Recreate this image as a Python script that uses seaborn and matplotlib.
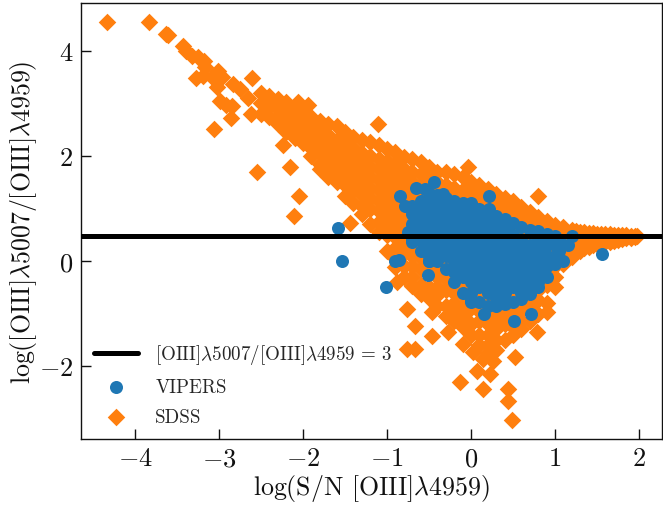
import pandas as pd
import seaborn as sns
import matplotlib
matplotlib.use("Agg")
import matplotlib.pyplot as plt

# values: main cloud as columns, stragglers listed apart
sdss_col_x = [-2.5, -2.4, -2.3, -2.2, -2.1, -2.0, -1.9, -1.8, -1.7, -1.6, -1.5, -1.4, -1.3, -1.2, -1.1, -1.0,
              -0.9, -0.8, -0.7, -0.6, -0.5, -0.4, -0.3, -0.2, -0.1, 0.0, 0.1, 0.2, 0.3, 0.4, 0.5, 0.6, 0.7, 0.8,
              0.9, 1.0, 1.1, 1.2, 1.25, 1.3, 1.35, 1.4, 1.45, 1.5, 1.55, 1.6, 1.65, 1.7, 1.75, 1.8, 1.85, 1.9, 1.95, 1.98]
sdss_col_y = [
    [3.2, 3.0, 2.8],
    [3.14, 2.95, 2.75],
    [3.08, 2.9, 2.75, 2.6],
    [3.03, 2.85, 2.65, 2.45],
    [2.93, 2.75, 2.55, 2.35],
    [2.84, 2.65, 2.45, 2.25],
    [2.74, 2.55, 2.35, 2.15, 2.0],
    [2.67, 2.45, 2.25, 2.05, 1.85, 1.75],
    [2.6, 2.4, 2.2, 2.0, 1.8, 1.6],
    [2.57, 2.3, 2.1, 1.9, 1.7, 1.5],
    [2.45, 2.25, 2.05, 1.85, 1.65, 1.45, 1.24],
    [2.36, 2.15, 1.95, 1.75, 1.55, 1.35, 1.1],
    [2.3, 2.05, 1.85, 1.65, 1.45, 1.25, 1.05, 0.9],
    [2.27, 2.0, 1.8, 1.6, 1.4, 1.2, 1.0, 0.7],
    [2.2, 1.95, 1.75, 1.55, 1.35, 1.15, 0.95, 0.75, 0.55],
    [2.13, 1.9, 1.7, 1.5, 1.3, 1.1, 0.9, 0.7, 0.5, 0.2],
    [2.07, 1.85, 1.65, 1.45, 1.25, 1.05, 0.85, 0.65, 0.45, 0.25, 0.05, -0.12],
    [1.98, 1.75, 1.55, 1.35, 1.15, 0.95, 0.75, 0.55, 0.35, 0.15, -0.1, -0.3],
    [1.94, 1.7, 1.5, 1.3, 1.1, 0.9, 0.7, 0.5, 0.3, 0.1, -0.1, -0.3, -0.48],
    [1.88, 1.65, 1.45, 1.25, 1.05, 0.85, 0.65, 0.45, 0.25, 0.05, -0.15, -0.45, -0.62],
    [1.8, 1.6, 1.4, 1.2, 1.0, 0.8, 0.6, 0.4, 0.2, 0.0, -0.2, -0.5, -0.7],
    [1.7, 1.5, 1.3, 1.1, 0.9, 0.7, 0.5, 0.3, 0.1, -0.1, -0.3, -0.5, -0.65, -0.85],
    [1.7, 1.45, 1.25, 1.05, 0.85, 0.65, 0.45, 0.25, 0.05, -0.15, -0.35, -0.55, -0.85, -1.05],
    [1.65, 1.4, 1.2, 1.0, 0.8, 0.6, 0.4, 0.2, 0.0, -0.2, -0.4, -0.6, -0.8, -0.95, -1.15],
    [1.6, 1.35, 1.15, 0.95, 0.75, 0.55, 0.35, 0.15, -0.05, -0.25, -0.45, -0.65, -0.85, -1.05, -1.25],
    [1.5, 1.3, 1.1, 0.9, 0.7, 0.5, 0.3, 0.1, -0.1, -0.3, -0.5, -0.7, -0.9, -1.2, -1.4],
    [1.45, 1.25, 1.05, 0.85, 0.65, 0.45, 0.25, 0.05, -0.15, -0.35, -0.55, -0.75, -0.95, -1.15, -1.4, -1.6],
    [1.37, 1.2, 1.0, 0.8, 0.6, 0.4, 0.2, 0.0, -0.2, -0.4, -0.6, -0.8, -1.0, -1.2, -1.4, -1.6, -1.75],
    [1.28, 1.1, 0.9, 0.7, 0.5, 0.3, 0.1, -0.1, -0.3, -0.5, -0.7, -0.9, -1.1, -1.3, -1.5, -1.7],
    [1.2, 1.0, 0.8, 0.6, 0.4, 0.2, 0.0, -0.2, -0.4, -0.6, -0.8, -1.0, -1.2, -1.5],
    [1.14, 0.95, 0.75, 0.55, 0.35, 0.15, -0.05, -0.25, -0.45, -0.65, -0.85, -1.05, -1.25, -1.4],
    [1.03, 0.85, 0.65, 0.45, 0.25, 0.05, -0.15, -0.35, -0.55, -0.75, -0.95, -1.15, -1.3],
    [0.93, 0.75, 0.55, 0.35, 0.15, -0.05, -0.25, -0.45, -0.65, -0.85, -1.15],
    [0.84, 0.65, 0.45, 0.25, 0.05, -0.15, -0.35, -0.55, -0.75, -1.0],
    [0.76, 0.55, 0.35, 0.15, -0.05, -0.25, -0.45, -0.8],
    [0.69, 0.5, 0.3, 0.1, -0.1, -0.3, -0.5],
    [0.65, 0.45, 0.25, 0.05, -0.05],
    [0.6, 0.4, 0.2, 0.08],
    [0.58, 0.4, 0.18],
    [0.56, 0.35, 0.2],
    [0.55, 0.38, 0.25],
    [0.54, 0.4, 0.27],
    [0.53, 0.42, 0.3],
    [0.52, 0.32],
    [0.52, 0.34],
    [0.51, 0.36],
    [0.51, 0.37],
    [0.5, 0.39],
    [0.5, 0.4],
    [0.49, 0.42],
    [0.49, 0.43],
    [0.48, 0.44],
    [0.48, 0.45],
    [0.47],
]
sdss_extra_x = [-4.33, -3.83, -3.61, -3.63, -3.43, -3.39, -3.32, -3.25, -3.18, -3.17, -3.01, -2.96, -3.08, -3.27,
                -3.19, -2.61, -2.83, -2.75, -3.02, -2.99, -2.92, -2.85, -2.86, -3.06, -2.62, -2.65, -2.55, -2.24,
                -2.15, -2.05, -2.11, -1.44, -1.11, -1.94, -2.06, -0.04, 0.8,
                -0.88, -0.76, -0.46, -0.67, -0.46, -0.27, -0.76, -0.67, -0.1, 0.02, 0.14, 0.26, 0.52, 0.79,
                0.07, 0.23, -0.13, 0.14, 0.44, 0.44, 0.49, 0.9]
sdss_extra_y = [4.55, 4.55, 4.3, 4.33, 4.1, 4.0, 3.9, 3.88, 3.81, 3.7, 3.62, 3.5, 3.5, 3.49,
                3.52, 3.49, 3.37, 3.28, 3.31, 3.05, 2.97, 2.95, 2.72, 2.51, 2.8, 3.1, 1.7, 2.21,
                1.79, 1.24, 0.86, 0.72, 2.61, 2.97, 3.03, 1.79, 1.24,
                -0.4, -0.91, -0.97, -1.24, -1.43, -1.35, -1.68, -1.68, -1.58, -1.73, -1.87, -1.9, -1.83, -1.35,
                -2.1, -2.15, -2.3, -2.44, -2.44, -2.67, -3.03, -0.97]

vipers_col_x = [-0.7, -0.6, -0.5, -0.4, -0.3, -0.2, -0.1, 0.0, 0.1, 0.2, 0.3, 0.4, 0.5, 0.6, 0.7, 0.8, 0.9, 1.0, 1.05]
vipers_col_y = [
    [1.05, 0.9, 0.7, 0.55, 0.4],
    [1.15, 0.95, 0.8, 0.6, 0.4, 0.2],
    [1.3, 1.15, 1.0, 0.9, 0.7, 0.5, 0.3, 0.1, 0.0],
    [1.25, 1.15, 1.0, 0.8, 0.6, 0.4, 0.2, 0.0],
    [1.2, 1.05, 0.9, 0.7, 0.5, 0.3, 0.1, -0.15],
    [1.15, 1.0, 0.8, 0.6, 0.4, 0.2, 0.0, -0.2, -0.4],
    [1.1, 1.0, 0.9, 0.7, 0.5, 0.3, 0.1, -0.1, -0.3, -0.6],
    [1.1, 1.0, 0.8, 0.6, 0.4, 0.2, 0.0, -0.2, -0.4, -0.6, -0.75],
    [1.0, 0.9, 0.7, 0.5, 0.3, 0.1, -0.1, -0.3, -0.5, -0.78],
    [0.95, 0.8, 0.6, 0.4, 0.2, 0.0, -0.2, -0.4, -0.6, -0.85],
    [0.85, 0.7, 0.5, 0.3, 0.1, -0.1, -0.3, -0.5, -0.7, -0.85],
    [0.8, 0.6, 0.4, 0.2, 0.0, -0.2, -0.4, -0.6, -0.82],
    [0.72, 0.5, 0.3, 0.1, -0.1, -0.3, -0.5, -0.78],
    [0.65, 0.4, 0.2, 0.0, -0.2, -0.4, -0.6, -0.72],
    [0.6, 0.3, 0.1, -0.1, -0.3, -0.5, -0.62],
    [0.58, 0.4, 0.2, 0.0, -0.2, -0.4, -0.5],
    [0.52, 0.3, 0.1, -0.1, -0.3],
    [0.47, 0.3, 0.1, -0.05],
    [0.4, 0.2, 0.05],
]
vipers_extra_x = [-1.58, -1.54, -1.01, -0.44, -0.85, -0.79, -0.66, -0.55, -0.75, -0.86, -0.9, -0.5, -0.51, -0.7,
                  -0.33, 0.21, 0.22, 0.72, 0.51, 1.1, 1.16, 1.2, 1.56, 0.0, 0.16]
vipers_extra_y = [0.63, 0.0, -0.5, 1.5, 1.24, 1.05, 1.39, 1.38, 0.55, 0.02, 0.0, 0.0, -0.27, 0.36,
                  1.27, 1.24, 1.0, -1.0, -1.14, 0.0, 0.3, 0.47, 0.13, -0.78, -1.0]

ratio_line = 0.477  # log10(3)

xticks = [-4, -3, -2, -1, 0, 1, 2]
yticks = [-2, 0, 2, 4]

sdss = pd.DataFrame({"x": sdss_col_x, "y": sdss_col_y}).explode("y")
sdss = pd.concat([sdss, pd.DataFrame({"x": sdss_extra_x, "y": sdss_extra_y})]).astype(float)
vipers = pd.DataFrame({"x": vipers_col_x, "y": vipers_col_y}).explode("y")
vipers = pd.concat([vipers, pd.DataFrame({"x": vipers_extra_x, "y": vipers_extra_y})]).astype(float)

sns.set_style("ticks")
plt.rcParams["font.family"] = ["cmr10"]
plt.rcParams["mathtext.fontset"] = "cm"
plt.rcParams["axes.formatter.use_mathtext"] = True
plt.rcParams["axes.unicode_minus"] = False

fig = plt.figure(figsize=(6.63, 5.06), dpi=100)
ax = fig.add_axes([81 / 663, 1 - 440 / 506, 581 / 663, 436 / 506])

sns.scatterplot(data=sdss, x="x", y="y", marker="D", s=80, color="#ff7f0e", linewidth=0, label="SDSS", ax=ax, zorder=2)
sns.scatterplot(data=vipers, x="x", y="y", marker="o", s=88, color="#1f77b4", linewidth=0, label="VIPERS", ax=ax, zorder=3)
ax.axhline(ratio_line, color="k", lw=3.6, zorder=4, label=r"[OIII]$\lambda$5007/[OIII]$\lambda$4959 = 3")

ax.set_xlim(-4.643, 2.274)
ax.set_ylim(-3.39, 4.914)
ax.set_xticks(xticks)
ax.set_yticks(yticks)
ax.tick_params(direction="in", length=7, width=1, labelsize=19, colors="#111111", pad=5.5)
ax.set_xlabel(r"log(S/N [OIII]$\lambda$4959)", fontsize=18.6, labelpad=1, color="#111111")
ax.set_ylabel(r"log([OIII]$\lambda$5007/[OIII]$\lambda$4959)", fontsize=18.6, labelpad=0, color="#111111")
for spine in ax.spines.values():
    spine.set_linewidth(1)
    spine.set_color("#111111")

handles, labels = ax.get_legend_handles_labels()
order = [2, 1, 0]
ax.legend([handles[i] for i in order], [labels[i] for i in order], loc="lower left", frameon=False,
          fontsize=13.7, borderaxespad=0.3, labelspacing=0.62, handlelength=2.3, handletextpad=0.9)

fig.savefig("out.png", dpi=100)
